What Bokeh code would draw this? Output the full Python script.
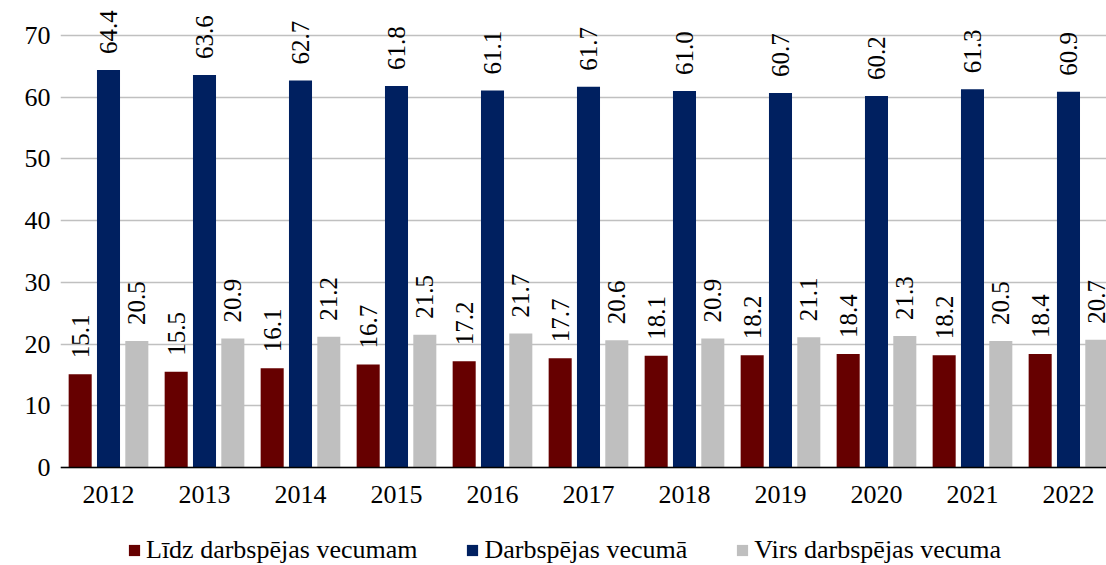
from bokeh.plotting import figure
from bokeh.models import ColumnDataSource, Range1d, FixedTicker, Legend, LegendItem
from bokeh.core.properties import value
from bokeh.embed import file_html
from bokeh.resources import INLINE

years = ["2012", "2013", "2014", "2015", "2016", "2017", "2018", "2019", "2020", "2021", "2022"]
lidz = [15.1, 15.5, 16.1, 16.7, 17.2, 17.7, 18.1, 18.2, 18.4, 18.2, 18.4]
darb = [64.4, 63.6, 62.7, 61.8, 61.1, 61.7, 61.0, 60.7, 60.2, 61.3, 60.9]
virs = [20.5, 20.9, 21.2, 21.5, 21.7, 20.6, 20.9, 21.1, 21.3, 20.5, 20.7]
series_names = ["Līdz darbspējas vecumam", "Darbspējas vecumā", "Virs darbspējas vecuma"]
colors = ["#660000", "#002060", "#BFBFBF"]
y_ticks = [0, 10, 20, 30, 40, 50, 60, 70]

FONT = "Times New Roman"
FONT_G = "serif"

p = figure(frame_width=1046, frame_height=565, output_backend="svg", toolbar_location=None,
           x_range=Range1d(-0.5, 10.396), y_range=Range1d(-15.88, 75.67),
           min_border_left=60, min_border_right=0, min_border_top=0, min_border_bottom=0)
p.outline_line_color = None
p.background_fill_color = "white"

idx = list(range(len(years)))
offsets = [-0.295, 0.0, 0.295]
renderers = []
for vals, off, col in zip([lidz, darb, virs], offsets, colors):
    xs = [i + off for i in idx]
    src = ColumnDataSource(dict(x=xs, top=vals, lab=["%.1f" % v for v in vals]))
    r = p.vbar(x="x", top="top", width=0.24, bottom=0, source=src,
               fill_color=col, line_color=None)
    renderers.append(r)
    p.text(x="x", y="top", text="lab", source=src, angle=1.5708,
           text_align="left", text_baseline="middle", y_offset=-16,
           text_font=value(FONT_G), text_font_size="25px", text_color="black")

p.xaxis.fixed_location = 0
p.xaxis.ticker = FixedTicker(ticks=idx)
p.xaxis.major_label_overrides = {i: y for i, y in enumerate(years)}
p.xaxis.major_tick_line_color = None
p.xaxis.minor_tick_line_color = None
p.xaxis.axis_line_color = "black"
p.xaxis.axis_line_width = 1.5
p.xaxis.major_label_standoff = 13
p.xaxis.major_label_text_font = FONT
p.xaxis.major_label_text_font_size = "26px"
p.xaxis.major_label_text_color = "black"

p.yaxis.ticker = FixedTicker(ticks=y_ticks)
p.yaxis.major_tick_line_color = None
p.yaxis.minor_tick_line_color = None
p.yaxis.axis_line_color = None
p.yaxis.major_label_standoff = 4
p.yaxis.major_label_text_font = FONT
p.yaxis.major_label_text_font_size = "26px"
p.yaxis.major_label_text_color = "black"

p.xgrid.grid_line_color = None
p.ygrid.ticker = FixedTicker(ticks=y_ticks)
p.ygrid.grid_line_color = "#C0C0C0"
p.ygrid.grid_line_width = 1.5

legend = Legend(items=[LegendItem(label=n, renderers=[r]) for n, r in zip(series_names, renderers)],
                orientation="horizontal", location=(67, 0),
                label_text_font=FONT_G, label_text_font_size="26px", label_text_color="black",
                glyph_width=14, glyph_height=14, label_standoff=5, spacing=48,
                border_line_color=None, background_fill_alpha=0, padding=0, margin=0)
p.add_layout(legend, "center")

open("out.html", "w").write(file_html(p, INLINE))
